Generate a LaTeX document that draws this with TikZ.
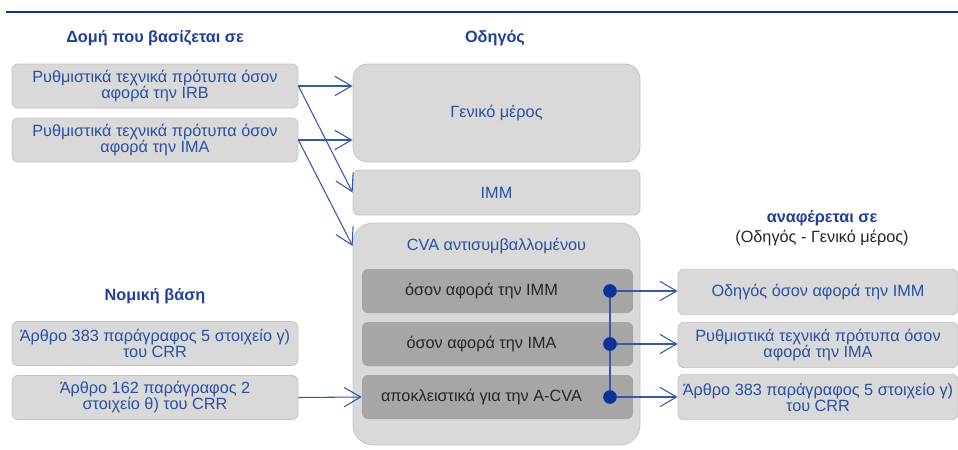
\documentclass[tikz,border=0pt]{standalone}
\usepackage{fontspec}
\setmainfont{Liberation Sans}
\usetikzlibrary{arrows.meta}

\definecolor{boxgrey}{HTML}{D9D9D9}
\definecolor{subgrey}{HTML}{A6A6A6}
\definecolor{edgegrey}{HTML}{C4C4C4}
\definecolor{textblue}{HTML}{2B4FA6}
\definecolor{headblue}{HTML}{1F3F99}
\definecolor{lineblue}{HTML}{3558A8}
\definecolor{dotblue}{HTML}{0B3399}
\definecolor{textdark}{HTML}{262626}

\tikzstyle{srcbox}=[draw=edgegrey,line width=0.6pt,fill=boxgrey,rectangle,rounded corners=4.5pt,minimum width=214.5pt,minimum height=33pt,inner sep=0pt,align=center,text=textblue,font=\fontsize{12.2}{12}\selectfont]
\tikzstyle{refbox}=[srcbox,minimum width=210pt,minimum height=34pt]
\tikzstyle{guidebox}=[srcbox,minimum width=215.25pt]
\tikzstyle{subbox}=[draw=none,fill=subgrey,rectangle,rounded corners=4.5pt,minimum width=203.25pt,minimum height=33pt,inner sep=0pt]
\tikzstyle{heading}=[text=headblue,font=\fontsize{12.2}{12}\selectfont\bfseries]
\tikzstyle{link}=[->,draw=lineblue,line width=0.8pt]
\tikzstyle{dot}=[circle,fill=dotblue,minimum size=10pt,inner sep=0pt]

\begin{document}
\begin{tikzpicture}[x=0.75pt,y=-0.75pt]
			\useasboundingbox (0,0) rectangle (958,450);
			\begin{scope}[>={Straight Barb[length=12.5pt,width=14.5pt]}]
				\draw[draw=dotblue,line width=2pt] (6,12) -- (958,12);

				\node[heading] (hbase) at (155,38) {Δομή που βασίζεται σε};
				\node[heading] (hguide) at (495,38) {Οδηγός};
				\node[heading] (hlegal) at (155,296) {Νομική βάση};
				\node[heading] (hrefs) at (822,218) {αναφέρεται σε};
				\node[text=textdark,font=\fontsize{12.2}{12}\selectfont] (hrefsub) at (822,238) {(Οδηγός - Γενικό μέρος)};

				\node (irb)[srcbox] at (155,86) {Ρυθμιστικά τεχνικά πρότυπα όσον\\αφορά την IRB};
				\node (ima)[srcbox] at (155,140) {Ρυθμιστικά τεχνικά πρότυπα όσον\\αφορά την IMA};
				\node (art383)[srcbox] at (155,343.5) {Άρθρο 383 παράγραφος 5 στοιχείο γ)\\του CRR};
				\node (art162)[srcbox] at (155,397.5) {Άρθρο 162 παράγραφος 2\\στοιχείο θ) του CRR};

				\node (general)[guidebox,minimum height=73.5pt,rounded corners=11pt] at (496.5,113) {Γενικό μέρος};
				\node (imm)[guidebox,minimum height=33.75pt] at (496.5,192.5) {IMM};
				\node (cva)[guidebox,minimum height=166.5pt,rounded corners=15pt] at (496.5,334) {};
				\node[text=textblue,font=\fontsize{12.2}{12}\selectfont] (cvatitle) at (496.5,246) {CVA αντισυμβαλλομένου};

				\node (sub1)[subbox,label={[xshift=-12pt,text=textdark,font=\fontsize{12.2}{12}\selectfont]center:όσον\ αφορά την IMM}] at (497.5,291) {};
				\node (sub2)[subbox,label={[xshift=-12pt,text=textdark,font=\fontsize{12.2}{12}\selectfont]center:όσον\ αφορά την IMA}] at (497.5,344) {};
				\node (sub3)[subbox,label={[xshift=-12pt,text=textdark,font=\fontsize{12.2}{12}\selectfont]center:αποκλειστικά για την A-CVA}] at (497.5,397) {};

				\node (ref1)[refbox] at (818,292) {Οδηγός όσον αφορά την IMM};
				\node (ref2)[refbox] at (818,345) {Ρυθμιστικά τεχνικά πρότυπα όσον\\αφορά την IMA};
				\node (ref3)[refbox] at (818,397) {Άρθρο 383 παράγραφος 5 στοιχείο γ)\\του CRR};

				\draw[link] (irb.east) -- (general.west |- irb.east);
				\draw[link] (irb.east) -- (imm.west);
				\draw[link] (ima.east) -- (general.west |- ima.east);
				\draw[link] (ima.east) -- (cva.west |- cvatitle);
				\draw[link] (art162.east) -- (sub3.west);

				\foreach \nr in {1, ..., 3}{
					\node (D\nr)[dot] at (610,{291+(\nr-1)*53}) {};
				}
				\draw[draw=lineblue,line width=0.8pt] (D1) -- (D3);
				\foreach \nr in {1, ..., 3}{
					\draw[link] (D\nr.center) -- (ref\nr.west |- D\nr);
					\node[dot] at (D\nr) {};
				}
			\end{scope}
		\end{tikzpicture}
\end{document}
